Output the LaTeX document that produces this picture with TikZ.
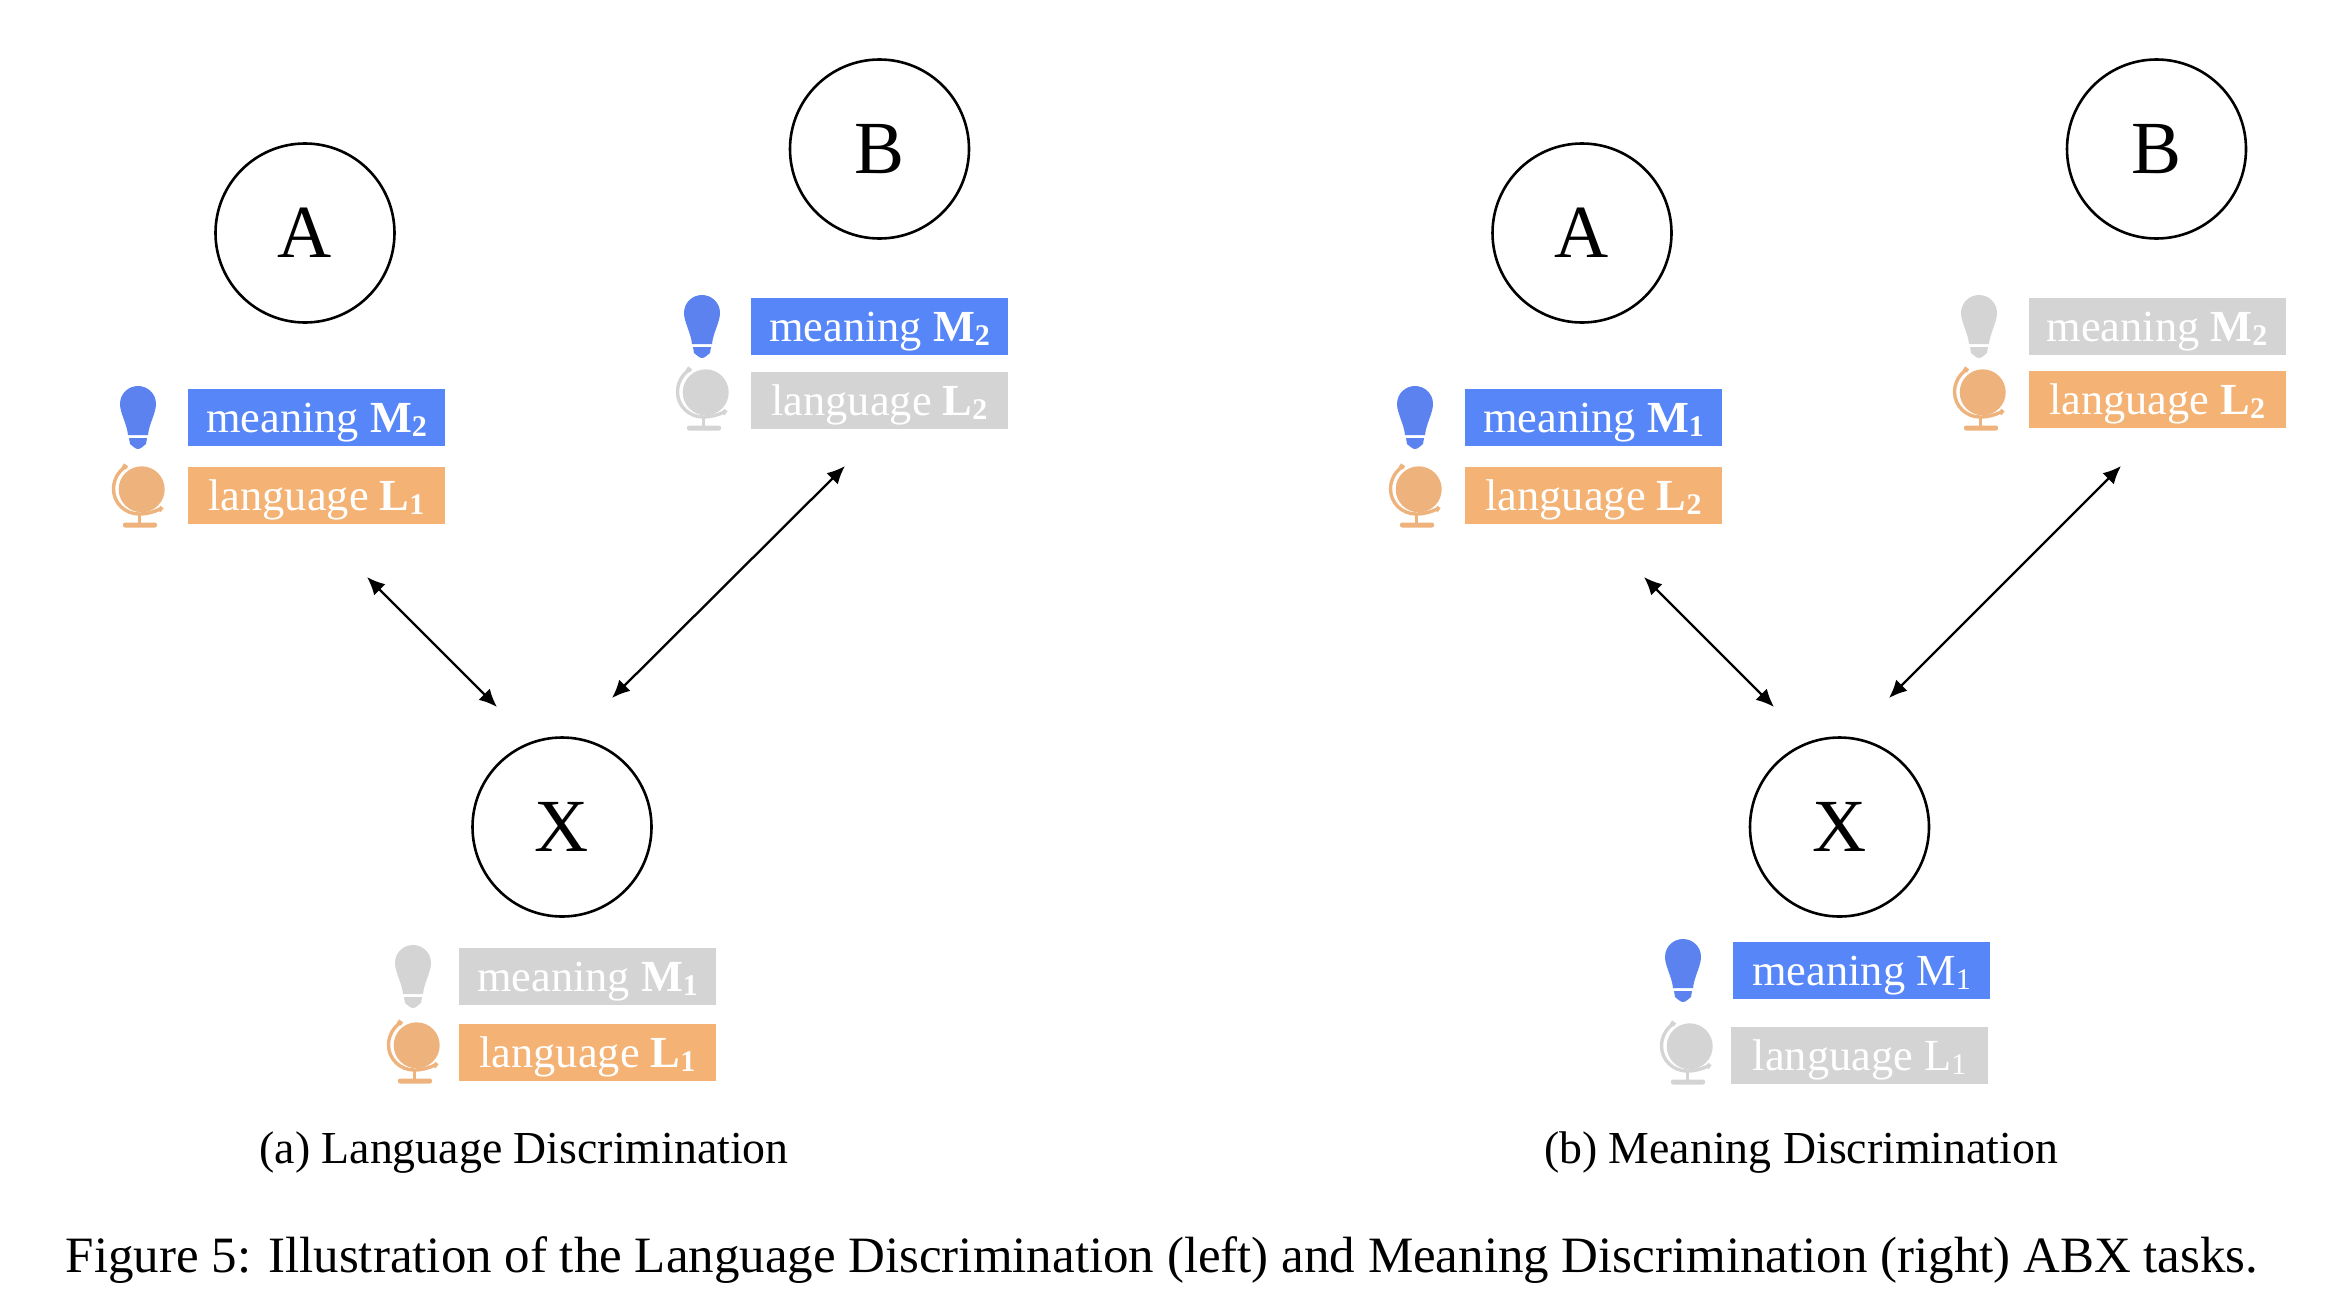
\documentclass[tikz,border=0pt]{standalone}
\usepackage{fontspec}
\setmainfont{Liberation Serif}
\usetikzlibrary{arrows.meta}
\definecolor{barblue}{HTML}{5686F8}
\definecolor{barorange}{HTML}{F4B274}
\definecolor{bargrey}{HTML}{D4D4D4}
\definecolor{iconblue}{HTML}{5B82EE}
\definecolor{iconorange}{HTML}{EEB27C}
\newcommand{\subnum}[1]{\raisebox{-2pt}{\fontsize{15}{15}\selectfont #1}}
\newcommand{\bsub}[2]{\textbf{#1\subnum{#2}}}
\newcommand{\rsub}[2]{#1\subnum{#2}}
\tikzset{
  x=0.5pt,y=-0.5pt,
  stim/.style={circle,draw=black,line width=1.3pt,minimum size=89.5pt,inner sep=0pt,font=\fontsize{37.5}{42}\selectfont},
  tag/.style={fill=#1,text=white,minimum width=128.5pt,minimum height=28.5pt,inner sep=0pt,text height=16.5pt,text depth=1.5pt,font=\fontsize{22.2}{24}\selectfont},
  link/.style={{Latex[length=9pt,width=8pt]}-{Latex[length=9pt,width=8pt]},line width=1.15pt,black},
  captext/.style={anchor=base,inner sep=0pt,font=\fontsize{22.9}{26}\selectfont},
  figtext/.style={anchor=base,inner sep=0pt,font=\fontsize{25.48}{30}\selectfont},
  pics/bulb/.style={code={
    \fill[#1] (-18,18) .. controls (-18,7) and (-9,0) .. (0,0) .. controls (9,0) and (18,7) .. (18,18) .. controls (18,27) and (11,38) .. (10,49) -- (-10,49) .. controls (-11,38) and (-18,27) .. (-18,18) -- cycle;
    \fill[#1] (-9,52) -- (9,52) -- (8,58) .. controls (5,60) and (3,63) .. (0,63) .. controls (-3,63) and (-5,60) .. (-8,58) -- cycle;
  }},
  pics/globe/.style={code={
    \fill[#1] (3.7,23.3) circle[radius=11.5pt];
    \draw[#1,line width=1.7pt] (-13,1) .. controls (-19,5) and (-24.5,13) .. (-24.5,23) .. controls (-24.5,37) and (-13,48) .. (1,48) .. controls (9,48) and (16,46) .. (22,43);
    \draw[#1,line width=2pt] (-15,-1) -- (-11,2);
    \draw[#1,line width=2pt] (21,45) -- (24,41);
    \fill[#1] (-0.5,48) rectangle (3,58);
    \fill[#1,rounded corners=1pt] (-15,56.5) rectangle (19,61.5);
  }},
}
\begin{document}
\begin{tikzpicture}
\useasboundingbox (0,0) rectangle (2344,1312);
% left panel
\node[stim] (A1) at (305,233) {A};
\node[stim] (B1) at (879.5,149) {B};
\node[stim] (X1) at (562,827) {X};
\pic at (138,386) {bulb=iconblue};
\pic at (138,466) {globe=iconorange};
\node[tag=barblue] (A1m) at (316.5,417.5) {meaning \bsub{M}{2}};
\node[tag=barorange] (A1l) at (316.5,495.5) {language \bsub{L}{1}};
\pic at (702,295) {bulb=iconblue};
\pic at (702,369) {globe=bargrey};
\node[tag=barblue] (B1m) at (879.5,326.5) {meaning \bsub{M}{2}};
\node[tag=bargrey] (B1l) at (879.5,400) {language \bsub{L}{2}};
\pic at (413,945) {bulb=bargrey};
\pic at (413,1022) {globe=iconorange};
\node[tag=bargrey] (X1m) at (587.5,976.5) {meaning \bsub{M}{1}};
\node[tag=barorange] (X1l) at (587.5,1052.5) {language \bsub{L}{1}};
\coordinate (p1a) at (367,577);
\coordinate (p1x) at (497,707);
\coordinate (p1b) at (845,466);
\coordinate (p1y) at (612,698);
\draw[link] (p1a) -- (p1x);
\draw[link] (p1b) -- (p1y);
% right panel
\node[stim] (A2) at (1582,233) {A};
\node[stim] (B2) at (2156.5,149) {B};
\node[stim] (X2) at (1839.5,827) {X};
\pic at (1415,386) {bulb=iconblue};
\pic at (1415,466) {globe=iconorange};
\node[tag=barblue] (A2m) at (1593.5,417.5) {meaning \bsub{M}{1}};
\node[tag=barorange] (A2l) at (1593.5,495.5) {language \bsub{L}{2}};
\pic at (1979,295) {bulb=bargrey};
\pic at (1979,369) {globe=iconorange};
\node[tag=bargrey] (B2m) at (2157,326.5) {meaning \bsub{M}{2}};
\node[tag=barorange] (B2l) at (2157,399.5) {language \bsub{L}{2}};
\pic at (1683,939) {bulb=iconblue};
\pic at (1686,1023) {globe=bargrey};
\node[tag=barblue] (X2m) at (1861.5,970.5) {meaning \rsub{M}{1}};
\node[tag=bargrey] (X2l) at (1859.5,1055) {language \rsub{L}{1}};
\coordinate (p2a) at (1644,577);
\coordinate (p2x) at (1774,707);
\coordinate (p2b) at (2121,466);
\coordinate (p2y) at (1889,698);
\draw[link] (p2a) -- (p2x);
\draw[link] (p2b) -- (p2y);
% captions
\node[captext] (capa) at (524,1163.5) {(a) Language Discrimination};
\node[captext] (capb) at (1801,1163.5) {(b) Meaning Discrimination};
\node[figtext] (capf) at (1162,1272.5) {Figure 5: Illustration of the Language Discrimination (left) and Meaning Discrimination (right) ABX tasks.};
\end{tikzpicture}
\end{document}
